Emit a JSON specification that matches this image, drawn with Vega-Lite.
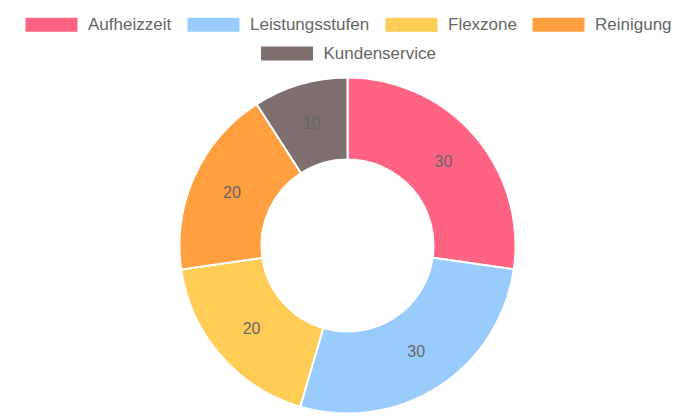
{
  "$schema": "https://vega.github.io/schema/vega-lite/v6.json",
  "width": 695,
  "height": 343,
  "autosize": "none",
  "padding": {"top": 74, "left": 0, "right": 0, "bottom": 0},
  "background": "#ffffff",
  "data": {
    "values": [
      {"category": "Aufheizzeit", "value": 30, "idx": 1},
      {"category": "Leistungsstufen", "value": 30, "idx": 2},
      {"category": "Flexzone", "value": 20, "idx": 3},
      {"category": "Reinigung", "value": 20, "idx": 4},
      {"category": "Kundenservice", "value": 10, "idx": 5}
    ]
  },
  "layer": [
    {
      "mark": {"type": "arc", "outerRadius": 168, "innerRadius": 86, "stroke": "#ffffff", "strokeWidth": 2},
      "encoding": {
        "theta": {"field": "value", "type": "quantitative", "stack": true},
        "order": {"field": "idx", "type": "quantitative"},
        "color": {
          "field": "category",
          "type": "nominal",
          "scale": {
            "domain": ["Aufheizzeit", "Leistungsstufen", "Flexzone", "Reinigung", "Kundenservice"],
            "range": ["#ff6384", "#99ccfd", "#ffcd56", "#ff9f40", "#7f6e6e"]
          },
          "legend": {"values": ["Aufheizzeit", "Leistungsstufen", "Flexzone", "Reinigung"]}
        }
      }
    },
    {
      "mark": {"type": "arc", "outerRadius": 0, "innerRadius": 0},
      "transform": [{"filter": "datum.category === 'Kundenservice'"}],
      "encoding": {
        "fill": {
          "field": "category",
          "type": "nominal",
          "scale": {"domain": ["Kundenservice"], "range": ["#7f6e6e"]},
          "legend": {"values": ["Kundenservice"]}
        }
      }
    },
    {
      "mark": {"type": "text", "radius": 127, "font": "Liberation Sans", "fontSize": 16, "fill": "#666666"},
      "encoding": {
        "theta": {"field": "value", "type": "quantitative", "stack": true},
        "order": {"field": "idx", "type": "quantitative"},
        "text": {"field": "value", "type": "quantitative"}
      }
    }
  ],
  "config": {
    "view": {"stroke": null},
    "legend": {
      "orient": "top",
      "direction": "horizontal",
      "title": null,
      "offset": 12,
      "symbolType": "M-3.714,-1H3.714V1H-3.714Z",
      "symbolSize": 196,
      "symbolOffset": 19,
      "symbolStrokeWidth": 0,
      "symbolOpacity": 1,
      "labelOffset": 28,
      "labelFont": "Liberation Sans",
      "labelFontSize": 17,
      "labelColor": "#666666",
      "columnPadding": 14,
      "layout": {"top": {"anchor": "middle", "direction": "vertical", "center": true, "margin": 12}}
    }
  }
}
